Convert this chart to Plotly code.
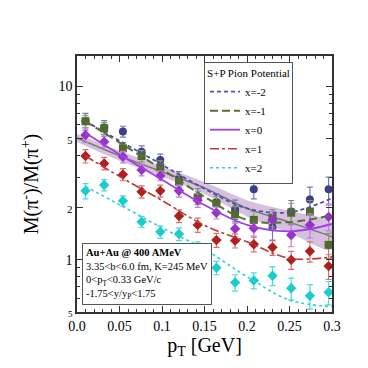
import numpy as np
import plotly.graph_objects as go

# pT bin centres of the measured ratios
pt = [0.010, 0.032, 0.054, 0.076, 0.098, 0.120, 0.142,
      0.164, 0.186, 0.208, 0.230, 0.252, 0.274, 0.296]

# simulated ratios for each pion potential strength x
ratio_m2 = [6.3, 5.8, 5.5, 4.2, 3.77, 2.93, 2.33, 2.15, 1.96, 2.55, 1.54, 1.9, 2.23, 2.55]
err_m2 = [0.7, 0.55, 0.4, 0.35, 0.3, 0.3, 0.25, 0.25, 0.25, 0.3, 0.25, 0.3, 0.4, 0.45]
ratio_m1 = [6.3, 5.74, 4.4, 3.97, 3.42, 2.82, 2.29, 2.12, 1.83, 1.70, 1.75, 1.87, 1.90, 1.22]
err_m1 = [0.5, 0.45, 0.35, 0.3, 0.3, 0.25, 0.2, 0.2, 0.2, 0.2, 0.2, 0.25, 0.3, 0.2]
ratio_0 = [5.25, 4.8, 3.93, 3.3, 3.06, 2.5, 2.21, 1.87, 1.51, 1.52, 1.70, 1.39, 1.59, 1.77]
err_0 = [0.5, 0.35, 0.3, 0.25, 0.2, 0.2, 0.2, 0.15, 0.15, 0.15, 0.2, 0.2, 0.25, 0.3]
ratio_p1 = [3.97, 3.6, 3.11, 2.47, 2.5, 1.79, 1.59, 1.30, 1.29, 1.23, 1.18, 1.0, 1.12, 0.92]
err_p1 = [0.35, 0.3, 0.25, 0.2, 0.2, 0.15, 0.15, 0.12, 0.12, 0.12, 0.12, 0.12, 0.15, 0.15]
ratio_p2 = [2.5, 2.7, 2.19, 1.66, 1.45, 1.41, 1.17, 0.90, 0.74, 0.76, 0.81, 0.685, 0.62, 0.65]
err_p2 = [0.25, 0.2, 0.15, 0.12, 0.12, 0.12, 0.1, 0.08, 0.08, 0.08, 0.1, 0.1, 0.1, 0.1]

# fitted curves
fit_pt = [0.01, 0.05, 0.1, 0.15, 0.2, 0.25, 0.3]
fit_m2 = [6.3, 4.86, 3.54, 2.57, 1.98, 1.88, 2.27]
fit_m1 = [6.3, 4.75, 3.33, 2.31, 1.70, 1.65, 1.81]
fit_0 = [5.39, 4.06, 2.9, 2.07, 1.59, 1.46, 1.61]
fit_p1 = [3.97, 3.03, 2.2, 1.58, 1.27, 1.02, 1.04]
fit_p2 = [2.65, 2.08, 1.53, 1.15, 0.80, 0.586, 0.537]

# experimental fit with uncertainty band
band_pt = [0.0, 0.05, 0.1, 0.15, 0.2, 0.25, 0.3]
band_mid = [5.05, 3.99, 3.22, 2.6, 1.98, 1.65, 1.36]
band_hi = [5.32, 4.26, 3.45, 2.81, 2.21, 1.91, 1.62]
band_lo = [4.78, 3.73, 3.02, 2.40, 1.78, 1.43, 1.15]

FONT = "Liberation Serif"

fig = go.Figure()

fig.add_trace(go.Scatter(x=band_pt + band_pt[::-1], y=band_hi + band_lo[::-1],
                         fill="toself", fillcolor="rgba(165,115,185,0.45)",
                         line=dict(width=0, shape="spline"), mode="lines",
                         showlegend=False, hoverinfo="skip"))
fig.add_trace(go.Scatter(x=band_pt, y=band_mid, mode="lines",
                         line=dict(color="#777777", width=1.5, shape="spline"),
                         showlegend=False))

series = [
    ("x=-2", ratio_m2, err_m2, fit_m2, "#3d3d8c", "#5050a8", "#7878b8", "circle", 8, "4px,3px", 1.8),
    ("x=-1", ratio_m1, err_m1, fit_m1, "#4f6a2b", "#5a7032", "#8a9a6a", "square", 8, "8px,4px", 2.0),
    ("x=0", ratio_0, err_0, fit_0, "#9932cc", "#a040e0", "#bb80e0", "diamond", 8, "solid", 1.8),
    ("x=1", ratio_p1, err_p1, fit_p1, "#b01e1e", "#c03838", "#d87070", "diamond", 8, "dashdot", 1.6),
    ("x=2", ratio_p2, err_p2, fit_p2, "#1ccccc", "#30d0d8", "#50dada", "diamond", 8, "dot", 1.6),
]

for name, y, err, fit, mcol, lcol, ecol, sym, msize, dash, lw in series:
    fig.add_trace(go.Scatter(x=pt, y=y, mode="markers",
                             marker=dict(symbol=sym, size=msize, color=mcol),
                             error_y=dict(type="data", array=err, color=ecol,
                                          thickness=1.2, width=3),
                             showlegend=False))

for name, y, err, fit, mcol, lcol, ecol, sym, msize, dash, lw in series:
    fig.add_trace(go.Scatter(x=fit_pt, y=fit, mode="lines", name=name,
                             line=dict(color=lcol, width=lw, dash=dash, shape="spline")))

small = "<span style='font-size:11px'>%s</span>"
fig.update_layout(
    width=368, height=368,
    # the page body adds an 8px offset, so margins are shifted to compensate
    margin=dict(l=68.5, r=43.5, t=48, b=64),
    plot_bgcolor="white", paper_bgcolor="white",
    font=dict(family=FONT, size=14, color="black"),
    xaxis=dict(range=[0, 0.3], tickvals=[0, 0.05, 0.1, 0.15, 0.2, 0.25, 0.3],
               ticktext=["0.0", "0.05", "0.1", "0.15", "0.2", "0.25", "0.3"],
               ticks="inside", ticklen=6, tickcolor="#333", mirror="allticks",
               showline=True, linecolor="#333", linewidth=1.5, showgrid=False,
               zeroline=False, automargin=False,
               minor=dict(ticks="inside", ticklen=3, dtick=0.01, tickcolor="#333", showgrid=False),
               title=dict(text="p<sub>T</sub> [GeV]", font=dict(size=20), standoff=2)),
    yaxis=dict(type="log", range=[np.log10(0.5), np.log10(15)],
               tickvals=[0.5, 1, 2, 5, 10],
               ticktext=["<span style='font-size:9px'>5</span>", "1", small % "2", small % "5", "10"],
               ticks="inside", ticklen=6, tickcolor="#333", mirror="allticks",
               showline=True, linecolor="#333", linewidth=1.5, showgrid=False,
               automargin=False,
               minor=dict(ticks="inside", ticklen=3, dtick="D1", tickcolor="#333", showgrid=False),
               title=dict(text="M(π<sup>-</sup>)/M(π<sup>+</sup>)", font=dict(size=20), standoff=14)),
    legend=dict(x=0.498, y=0.977, xanchor="left", yanchor="top",
                bgcolor="white", bordercolor="#555", borderwidth=1,
                font=dict(size=11), tracegroupgap=0, itemwidth=30,
                title=dict(text="S+P Pion Potential", font=dict(size=11), side="top center")),
)

fig.add_annotation(
    xref="paper", yref="paper", x=0.0215, y=0.027, xanchor="left", yanchor="bottom",
    showarrow=False, align="left", bgcolor="white", bordercolor="#555", borderwidth=1,
    borderpad=3, font=dict(size=10.5),
    text=("<b>Au+Au @ 400 AMeV</b><br>3.35&lt;b&lt;6.0 fm, K=245 MeV<br>"
          "0&lt;p<sub>T</sub>&lt;0.33 GeV/c<br>-1.75&lt;y/y<sub>P</sub>&lt;1.75"),
)

fig.write_html("out.html")
